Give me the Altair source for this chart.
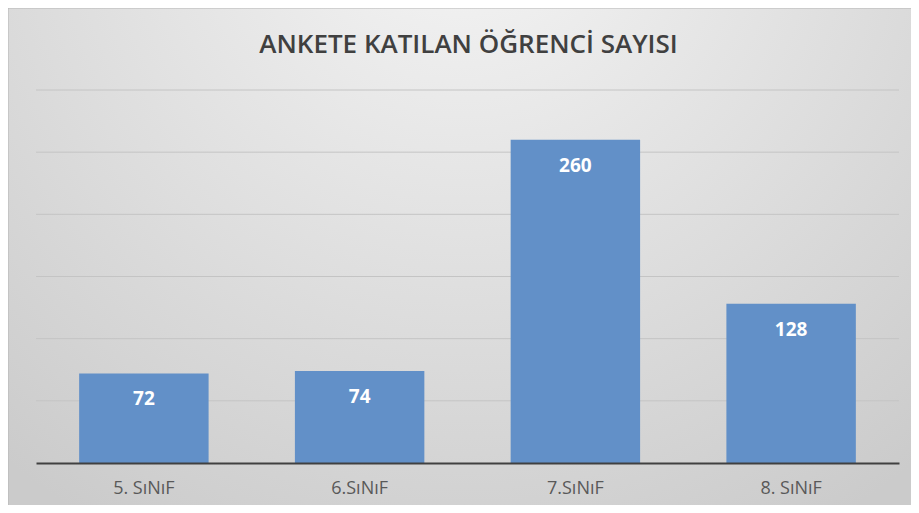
import altair as alt
import pandas as pd

title_text = ["ANKETE KATILAN ÖĞRENCİ SAYISI"]
categories = ["5. SıNıF", "6.SıNıF", "7.SıNıF", "8. SıNıF"]
values = [72, 74, 260, 128]
grid_values = [50, 100, 150, 200, 250, 300]

df = pd.DataFrame({"sinif": categories, "sayi": values})
grid_df = pd.DataFrame({"v": grid_values})
title_df = pd.DataFrame({"t": title_text})

W, H = 863, 373
PL, PT, PR, PB = 28, 82, 12, 42

yscale = alt.Scale(domain=[0, 300], nice=False, zero=True)

bg = alt.Chart(pd.DataFrame({"a": [0]})).mark_rect(
    fill={
        "gradient": "radial",
        "x1": 0.5, "y1": 0.1, "x2": 0.5, "y2": 0.1, "r1": 0, "r2": 0.8,
        "stops": [
            {"offset": 0, "color": "#f6f6f6"},
            {"offset": 1, "color": "#cbcbcb"},
        ],
    },
    stroke="#b5b5b5",
    strokeWidth=1,
).encode(
    x=alt.value(-PL), x2=alt.value(W + PR + 5),
    y=alt.value(-PT), y2=alt.value(H + PB + 5),
)

title = alt.Chart(title_df).mark_text(
    font="Open Sans", fontSize=26, fontWeight=600, color="#404040",
    align="center", baseline="middle",
).encode(text="t:N", x=alt.value(W / 2 + 1), y=alt.value(-45))

grid = alt.Chart(grid_df).mark_rule(color="#c4c4c4", strokeWidth=1).encode(
    y=alt.Y("v:Q", scale=yscale, axis=None)
)

base = alt.Chart(df).encode(
    x=alt.X(
        "sinif:N",
        sort=categories,
        scale=alt.Scale(paddingInner=0.4, paddingOuter=0.2),
        axis=alt.Axis(
            title=None,
            labelAngle=0,
            ticks=False,
            grid=False,
            domainColor="#404040",
            domainWidth=2,
            labelFont="Open Sans",
            labelFontSize=18,
            labelColor="#595959",
            labelPadding=16,
            zindex=1,
        ),
    ),
    y=alt.Y("sayi:Q", scale=yscale, axis=None),
)

bars = base.mark_bar(color="#6290c8")

labels = base.mark_text(
    color="white", fontWeight="bold", font="Open Sans", fontSize=19,
    baseline="middle", dy=26,
).encode(text="sayi:Q")

chart = alt.layer(bg, title, grid, bars, labels).properties(
    width=W,
    height=H,
    autosize=alt.AutoSizeParams(type="none"),
    padding={"left": PL, "top": PT, "right": PR, "bottom": PB},
).configure_view(stroke=None).configure(background="#ffffff")

chart.save("out.html", embed_options={"renderer": "svg", "actions": False})
